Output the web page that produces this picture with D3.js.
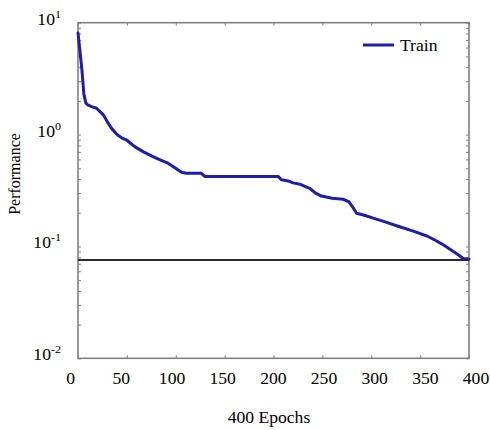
<!DOCTYPE html>
<html><head><meta charset="utf-8">
<script src="https://cdn.jsdelivr.net/npm/d3@7"></script>
<style>body{margin:0;background:#fff}svg{display:block}
svg text{font-family:"Liberation Serif","Times New Roman",Times,serif;}</style>
</head><body><svg id="c" width="490" height="430"></svg>
<script>
const epochs = [0,2,4,6,8,10,14,19,22,26,30,34.5,40,45,50,58,67,75,84,92,100,102,106,111,126,130,205,208,215,220,227,232,237,243,249,260,271,277,281,285,293,302,315,329,343,357,366,374,384,390,394,400];
const trainPerf = [8.1,5.6,3.8,2.3,1.92,1.84,1.78,1.72,1.62,1.5,1.3,1.13,1.0,0.93,0.89,0.78,0.70,0.645,0.593,0.555,0.5,0.485,0.46,0.451,0.451,0.421,0.421,0.395,0.385,0.37,0.36,0.345,0.331,0.30,0.282,0.27,0.264,0.252,0.225,0.198,0.19,0.179,0.165,0.15,0.137,0.124,0.113,0.103,0.09,0.083,0.078,0.077];
const goalValue = 0.0755;
const xTickValues = [0,50,100,150,200,250,300,350,400];
const yTickValues = [10,1,0.1,0.01];
const yTickExponents = ["1","0","-1","-2"];
const seriesName = "Train";
const xTitle = "400 Epochs";
const yTitle = "Performance";

const svg = d3.select("#c");
const L = 78, R = 469, T = 22.7, B = 358.3;
const x = d3.scaleLinear().domain([0, 400]).range([L, R]);
const xl = d3.scaleLinear().domain([0, 400]).range([70.7, 476]);
const y = d3.scaleLog().domain([0.01, 10]).range([B, T]);
const AX = "#808080";
const SX = 1.1;

const minor = [];
[0.01, 0.1, 1].forEach(d => { for (let k = 2; k <= 9; k++) minor.push(d * k); });
const yAll = yTickValues.concat(minor);

function styleAxis(g) {
  g.select(".domain").remove();
  g.selectAll(".tick line").attr("stroke", AX).attr("stroke-width", 1);
}
svg.append("g").attr("transform", `translate(0,${B})`)
  .call(d3.axisBottom(x).tickValues(xTickValues).tickSize(-3).tickFormat("")).call(styleAxis);
svg.append("g").attr("transform", `translate(0,${T})`)
  .call(d3.axisTop(x).tickValues(xTickValues).tickSize(-3).tickFormat("")).call(styleAxis);
svg.append("g").attr("transform", `translate(${L},0)`)
  .call(d3.axisLeft(y).tickValues(yAll).tickSize(-3).tickFormat("")).call(styleAxis);
svg.append("g").attr("transform", `translate(${R},0)`)
  .call(d3.axisRight(y).tickValues(yAll).tickSize(-3).tickFormat("")).call(styleAxis);

svg.append("rect").attr("x", L).attr("y", T).attr("width", R - L).attr("height", B - T)
  .attr("fill", "none").attr("stroke", AX).attr("stroke-width", 1.6);

// goal line
svg.append("line").attr("x1", L).attr("x2", R)
  .attr("y1", y(goalValue)).attr("y2", y(goalValue))
  .attr("stroke", "#2a2a2a").attr("stroke-width", 2);

// train curve
const line = d3.line().x((d, i) => x(epochs[i])).y(d => y(d));
svg.append("path").datum(trainPerf).attr("d", line)
  .attr("fill", "none").attr("stroke", "#1e1ea8").attr("stroke-width", 3)
  .attr("stroke-linejoin", "round").attr("stroke-linecap", "round");

// x tick labels
svg.append("g").selectAll("text").data(xTickValues).join("text")
  .attr("transform", d => `translate(${xl(d)},384) scale(${SX},1)`)
  .attr("text-anchor", "middle").attr("font-size", 16)
  .attr("fill", "#000").text(d => d);

// y tick labels
const yl = svg.append("g").selectAll("text").data(yTickValues).join("text")
  .attr("transform", d => `translate(61,${y(d) + 2}) scale(${SX},1)`)
  .attr("text-anchor", "end").attr("font-size", 16).attr("fill", "#000");
yl.append("tspan").text("10");
yl.append("tspan").attr("dy", -7).attr("font-size", 11).text((d, i) => yTickExponents[i]);

// axis titles
svg.append("text").attr("transform", `translate(269,423) scale(${SX},1)`)
  .attr("text-anchor", "middle").attr("font-size", 16).text(xTitle);
svg.append("text").attr("transform", "translate(20,174) rotate(-90)")
  .attr("text-anchor", "middle").attr("font-size", 16).text(yTitle);

// legend
svg.append("line").attr("x1", 363).attr("x2", 394).attr("y1", 45).attr("y2", 45)
  .attr("stroke", "#1e1ea8").attr("stroke-width", 3);
svg.append("text").attr("transform", `translate(400,50.5) scale(${SX},1)`)
  .attr("font-size", 16).text(seriesName);
</script></body></html>
